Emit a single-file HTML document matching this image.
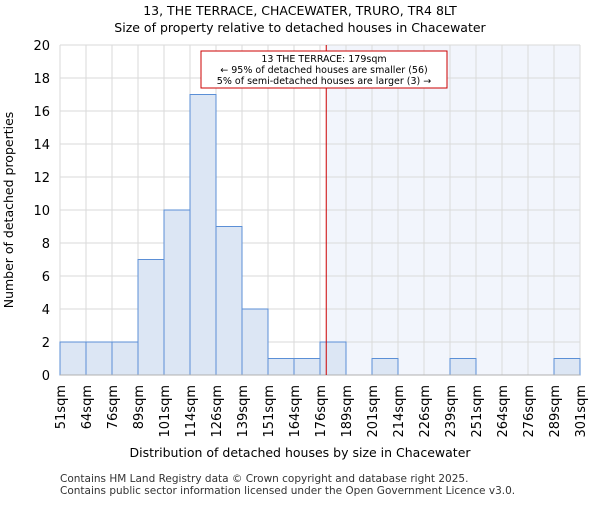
<!DOCTYPE html>
<html><head><meta charset="utf-8"><style>body{margin:0;background:#fff}text{font-family:"DejaVu Sans","Liberation Sans",sans-serif}</style></head>
<body>
<svg id="chart" width="600" height="500">
<text x="300" y="15" text-anchor="middle" font-size="12.5">13, THE TERRACE, CHACEWATER, TRURO, TR4 8LT</text>
<text x="300" y="32" text-anchor="middle" font-size="12.5">Size of property relative to detached houses in Chacewater</text>
<g id="plot"></g>
<text x="300" y="457" text-anchor="middle" font-size="12.5">Distribution of detached houses by size in Chacewater</text>
<text transform="translate(13,210) rotate(-90)" text-anchor="middle" font-size="12.5">Number of detached properties</text>
<text x="60" y="482" font-size="10.5" fill="#333">Contains HM Land Registry data © Crown copyright and database right 2025.</text>
<text x="60" y="494" font-size="10.5" fill="#333">Contains public sector information licensed under the Open Government Licence v3.0.</text>
</svg>
<script>
const categories=["51sqm","64sqm","76sqm","89sqm","101sqm","114sqm","126sqm","139sqm","151sqm","164sqm","176sqm","189sqm","201sqm","214sqm","226sqm","239sqm","251sqm","264sqm","276sqm","289sqm","301sqm"];
const counts=[2,2,2,7,10,17,9,4,1,1,2,0,1,0,0,1,0,0,0,1];
const yTicks=[0,2,4,6,8,10,12,14,16,18,20];
const binStart=51, binWidth=12.5, markerValue=179;
const x0=60,x1=580,yTop=45,yBot=375,yMax=20;
const nb=counts.length;
const xs=v=>x0+(v-binStart)/(binWidth*nb)*(x1-x0);
const xi=i=>x0+i*(x1-x0)/nb;
const ys=v=>yBot-v/yMax*(yBot-yTop);
const NS="http://www.w3.org/2000/svg";
const g=document.getElementById('plot');
function mk(t,a){const e=document.createElementNS(NS,t);for(const k in a)e.setAttribute(k,a[k]);g.appendChild(e);return e;}
const mx=xs(markerValue);
let r=mk('rect',{x:mx,y:yTop,width:x1-mx,height:yBot-yTop,fill:'#f2f5fc'});


yTicks.forEach(t=>{let l=mk('line',{x1:x0,x2:x1,y1:ys(t),y2:ys(t),stroke:'#dadada'});


let tx=mk('text',{x:x0-10,y:ys(t)+5,'text-anchor':'end','font-size':'13'});tx.textContent=t;

});
categories.forEach((c,i)=>{let l=mk('line',{x1:xi(i),x2:xi(i),y1:yTop,y2:yBot,stroke:'#dadada'});


let tx=mk('text',{transform:`translate(${xi(i)+5},385) rotate(-90)`,'text-anchor':'end','font-size':'13'});tx.textContent=c;

});
counts.forEach((v,i)=>{if(v<=0)return;let b=mk('rect',{x:xi(i),y:ys(v),width:xi(i+1)-xi(i),height:yBot-ys(v),fill:'#dce6f4',stroke:'#5b8fd6','stroke-width':1});

});
let ax=mk('line',{x1:x0,x2:x1,y1:yBot,y2:yBot,stroke:'#b0b0b0'});


let ml=mk('line',{x1:mx,x2:mx,y1:yTop,y2:yBot,stroke:'#cc0000','stroke-width':1});


let box=mk('rect',{x:201,y:51,width:246,height:37,fill:'#fff',stroke:'#cc0000'});


["13 THE TERRACE: 179sqm","← 95% of detached houses are smaller (56)","5% of semi-detached houses are larger (3) →"].forEach((s,k)=>{
let t=mk('text',{x:324,y:62+k*11,'text-anchor':'middle','font-size':'9.5'});t.textContent=s;

});
</script>
</body></html>
